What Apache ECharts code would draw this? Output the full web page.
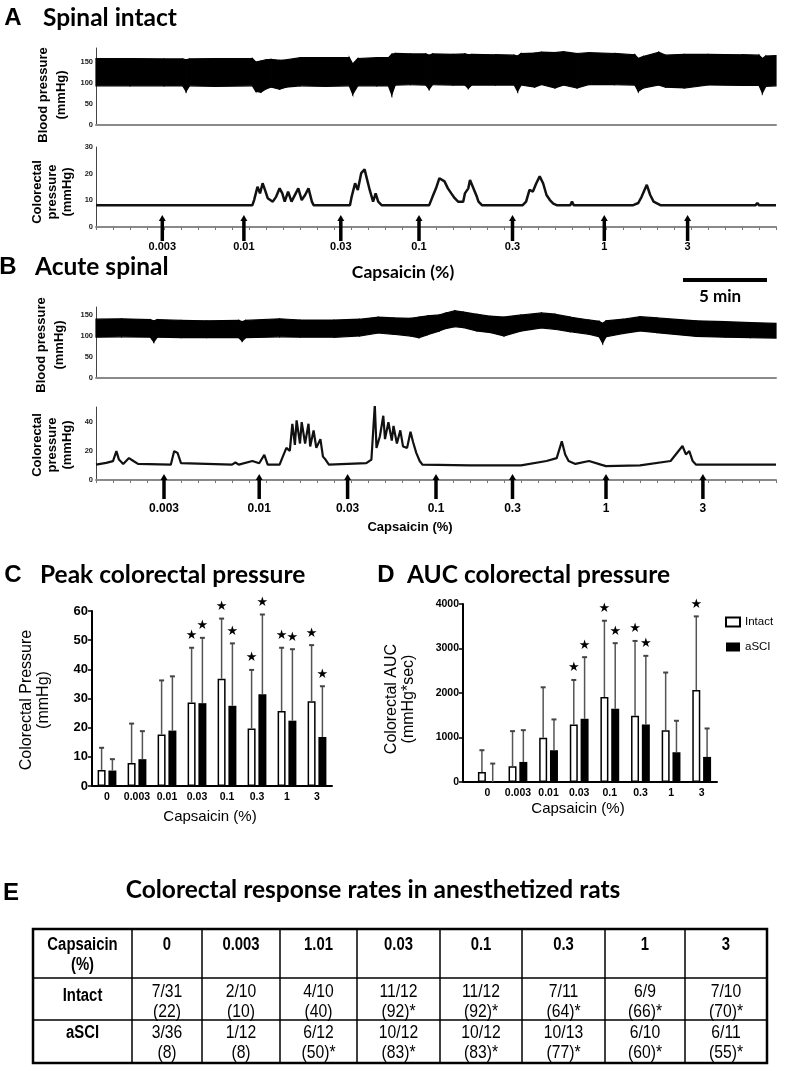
<!DOCTYPE html>
<html><head><meta charset="utf-8">
<script src="https://cdn.jsdelivr.net/npm/echarts/dist/echarts.min.js"></script>
<style>html,body{margin:0;padding:0;background:#fff}#c{width:785px;height:1071px}</style>
</head><body><div id="c"></div>
<script>
// ---------- DATA ----------
// Panel A: spinal intact, time in minutes
var bpA_t  = [0,2,4,5.1,5.3,5.5,7,9.2,9.4,9.7,10.0,10.3,10.8,11.2,12.0,13.5,14.9,15.1,15.4,16.5,17.2,17.4,17.6,18.5,19.4,19.6,19.8,21.0,21.7,21.9,22.1,23.5,24.6,24.8,25.0,25.8,26.2,27.0,27.5,28.3,29.0,30.5,31.7,31.9,32.2,33.1,33.5,34.6,36.0,38.0,39.0,39.2,39.4,40];
var bpA_hi = [158,158,157,157,155,157,158,158,150,152,155,156,154,155,160,160,160,145,158,160,160,168,170,169,169,166,169,168,169,167,168,167,166,164,170,171,173,172,174,170,172,170,167,158,163,173,166,168,168,167,166,158,164,165];
var bpA_lo = [93,93,93,93,80,93,92,93,80,78,86,90,85,90,93,92,93,73,93,93,93,72,95,96,95,85,96,95,95,87,95,95,95,80,95,90,96,88,95,88,96,96,95,80,88,95,90,88,95,94,94,76,92,93];
var crpA_t = [0,9.2,9.3,9.5,9.65,9.8,9.94,10.1,10.4,10.6,10.8,10.96,11.1,11.3,11.5,11.9,12.1,12.3,12.5,12.7,12.8,14.94,15.04,15.24,15.4,15.6,15.8,15.9,16.1,16.3,16.45,16.6,16.8,19.6,19.8,20.0,20.2,20.3,20.5,20.7,20.9,21.1,21.3,21.6,21.7,21.9,22.0,22.2,22.4,22.5,22.7,25.1,25.3,25.5,25.7,25.9,26.1,26.3,26.5,26.7,26.9,27.1,27.9,28.0,28.1,31.6,31.9,32.1,32.4,32.6,32.8,33.2,38.8,38.9,39.0,40];
var crpA_v = [8.2,8.2,10.1,15.1,12.6,16.4,13.9,10.8,9.5,11.4,14.5,12.6,9.5,13.3,9.5,14.5,10.1,12.0,14.5,9.5,8.2,8.2,11.4,16.4,13.9,20.2,21.6,19.0,13.9,9.5,12.6,9.5,8.2,8.2,11.4,14.5,18.3,19.0,17.1,14.5,12.6,10.8,9.5,9.5,12.6,14.5,17.6,14.5,11.4,9.5,8.2,8.2,9.5,13.9,13.3,16.4,19.0,16.4,12.0,10.1,8.8,8.2,8.2,9.5,8.2,8.2,9.0,11.4,15.8,12.0,9.5,8.2,8.2,9.0,8.2,8.2];
var arrowA_t = [3.9,8.7,14.4,19.0,24.5,29.9,34.8];
// Panel B: acute spinal
var bpB_t  = [0,1.5,3.2,3.4,3.6,5,6.5,8.4,8.6,8.8,10.8,12,14,15.5,16.6,17.5,18.5,19.0,19.5,20.2,20.6,21.1,21.6,22.4,23.2,24.0,25.0,26.2,27.0,27.9,29.0,29.6,29.8,30.0,31.0,32.0,33.0,35.3,37.0,38.5,40];
var bpB_hi = [140,141,139,136,139,137,136,137,134,137,141,138,138,140,145,143,142,145,148,150,155,160,157,152,147,145,150,155,152,145,138,135,130,136,140,146,143,136,134,132,130];
var bpB_lo = [97,98,97,86,97,96,96,96,88,96,98,97,97,100,107,104,100,96,103,112,118,122,120,112,108,100,112,119,116,110,104,98,83,98,106,112,108,99,97,96,95];
var crpB_t = [0,0.6,1.0,1.2,1.35,1.6,1.94,2.2,2.47,4.4,4.6,4.8,5.0,8.0,8.2,8.4,9.2,9.6,9.9,10.1,10.8,11.0,11.2,11.4,11.55,11.7,11.8,12.0,12.1,12.3,12.5,12.6,12.8,12.96,13.2,13.35,13.5,13.7,15.9,16.2,16.4,16.5,16.7,16.9,17.0,17.2,17.4,17.5,17.7,17.9,18.06,18.3,18.5,18.65,18.84,19.04,19.2,22,25,26.5,27.1,27.4,27.6,27.8,28.2,29.0,29.7,30.0,32,33.8,34.5,34.7,34.9,35.1,35.3,37,40];
var crpB_v = [10.5,11.7,12.9,19.8,14,11,15,13,11,10.5,19.8,18.5,11.5,10.5,12,10.5,13,11.5,17.2,10.5,10.5,16.3,22,20,38.5,24,40.8,25,39.6,25,38.5,23,33.9,22,28,16,14,10.5,11.5,14,51.3,22,30,44,28,39.6,27,37,25,34,23,22,33,26,18.6,13,10.5,10,10,13,15,26.5,17.5,13,11,13,10.5,9.5,10,13,23.3,17.5,19.8,13,10.5,10.5,10.5];
var arrowB_t = [4.0,9.6,14.8,20.0,24.5,30.0,35.7];
var arrowLabels = ['0.003','0.01','0.03','0.1','0.3','1','3'];
// Panels C and D
var categories = ['0','0.003','0.01','0.03','0.1','0.3','1','3'];
var intactC    = [5.5,7.9,17.7,28.6,36.8,19.7,25.7,29.1];
var intactCErr = [13.1,21.4,36.2,47.4,57.4,39.8,47.4,48.3];
var asciC      = [5.3,9.2,19.0,28.4,27.5,31.5,22.4,16.8];
var asciCErr   = [9.2,18.8,37.6,50.8,48.9,58.8,46.9,34.2];
var sigIntactC = [0,0,0,1,1,1,1,1];
var sigAsciC   = [0,0,0,1,1,1,1,1];
var intactD    = [226,353,992,1293,1910,1489,1165,2068];
var intactDErr = [714,1143,2128,2293,3624,3170,2460,3722];
var asciD      = [0,451,714,1421,1647,1293,669,564];
var asciDErr   = [414,1165,1406,2805,3120,2835,1376,1203];
var sigIntactD = [0,0,0,1,1,1,0,1];
var sigAsciD   = [0,0,0,1,1,1,0,0];
// Panel E table
var tableHead   = ['0','0.003','1.01','0.03','0.1','0.3','1','3'];
var intactRatio = ['7/31','2/10','4/10','11/12','11/12','7/11','6/9','7/10'];
var intactPct   = ['(22)','(10)','(40)','(92)*','(92)*','(64)*','(66)*','(70)*'];
var asciRatio   = ['3/36','1/12','6/12','10/12','10/12','10/13','6/10','6/11'];
var asciPct     = ['(8)','(8)','(50)*','(83)*','(83)*','(77)*','(60)*','(55)*'];

// ---------- STYLE ----------
var TF = 'Lato, "Open Sans", sans-serif';
var AR = '"Liberation Sans", Arial, sans-serif';

function pairs(t, v){ return t.map(function(x,i){ return [x, v[i]]; }); }

function traceX(gi, ticks){
  return {type:'value', gridIndex:gi, min:0, max:40, interval:1,
    axisLine:{lineStyle:{color:'#8a8a8a', width:2}},
    axisTick:{show:ticks, length:3, lineStyle:{color:'#777', width:1}},
    axisLabel:{show:false}, splitLine:{show:false}};
}
function traceY(gi, max, interval){
  return {type:'value', gridIndex:gi, min:0, max:max, interval:interval,
    axisLine:{show:true, lineStyle:{color:'#444', width:1}},
    axisTick:{show:false}, splitLine:{show:false},
    axisLabel:{margin:3, color:'#222', fontSize:7.5, fontWeight:'bold', fontFamily:AR,
      formatter:function(v){ return (v % interval === 0) ? String(v) : ''; }}};
}
function barX(gi){
  return {type:'category', gridIndex:gi, data:categories,
    axisLine:{lineStyle:{color:'#000', width:2}},
    axisTick:{alignWithLabel:true, length:4, lineStyle:{color:'#000', width:1.5}},
    axisLabel:{interval:0, margin:6, color:'#000', fontSize:10.5, fontWeight:'bold', fontFamily:AR}};
}
function barY(gi, max, interval, offset, fs){
  return {type:'value', gridIndex:gi, min:0, max:max, interval:interval, offset:offset,
    axisLine:{show:true, lineStyle:{color:'#000', width:2}},
    axisTick:{show:true, length:4, lineStyle:{color:'#000', width:1.5}},
    splitLine:{show:false},
    axisLabel:{margin:4, color:'#000', fontSize:fs, fontWeight:'bold', fontFamily:AR,
      formatter:function(v){ return String(v); }}};
}
// blood-pressure envelope: one quadrilateral per interval between readings
function band(xi, t, hi, lo){
  var d = [];
  for (var i = 0; i < t.length-1; i++) d.push([t[i], lo[i], hi[i], t[i+1], lo[i+1], hi[i+1]]);
  return {type:'custom', xAxisIndex:xi, yAxisIndex:xi, silent:true, z:2, data:d,
    encode:{x:[0,3], y:[1,2,4,5]},
    renderItem:function(params, api){
      var a = api.coord([api.value(0), api.value(1)]), b = api.coord([api.value(0), api.value(2)]);
      var c = api.coord([api.value(3), api.value(5)]), e = api.coord([api.value(3), api.value(4)]);
      return {type:'polygon', shape:{points:[a,b,c,e]}, style:{fill:'#000', stroke:'#000', lineWidth:1.2}};
    }};
}
function arrows(xi, times, up, down, labelDy, fs){
  return {type:'custom', xAxisIndex:xi, yAxisIndex:xi, clip:false, silent:true, z:10,
    data: times.map(function(t,i){ return [t, i]; }),
    renderItem:function(params, api){
      var p = api.coord([api.value(0), 0]); var i = api.value(1);
      return {type:'group', children:[
        {type:'line', shape:{x1:p[0], y1:p[1]+down, x2:p[0], y2:p[1]-up+5}, style:{stroke:'#000', lineWidth:3.5}},
        {type:'polygon', shape:{points:[[p[0]-3.5,p[1]-up+6],[p[0]+3.5,p[1]-up+6],[p[0],p[1]-up]]}, style:{fill:'#000'}},
        {type:'text', style:{text:arrowLabels[i], x:p[0], y:p[1]+labelDy, align:'center', verticalAlign:'middle',
          fontSize:fs, fontWeight:'bold', fontFamily:AR, fill:'#000'}}
      ]};
    }};
}
function errs(xi, vals, err, sig, offset){
  return {type:'custom', xAxisIndex:xi, yAxisIndex:xi, clip:false, silent:true, z:6,
    data: vals.map(function(v,i){ return [i, v, err[i], sig[i]]; }),
    renderItem:function(params, api){
      var i = api.value(0);
      var a = api.coord([i, api.value(1)]); var b = api.coord([i, api.value(2)]);
      var x = a[0] + offset;
      var ch = [
        {type:'line', shape:{x1:x, y1:a[1], x2:x, y2:b[1]}, style:{stroke:'#555', lineWidth:1.5}},
        {type:'line', shape:{x1:x-2.5, y1:b[1], x2:x+2.5, y2:b[1]}, style:{stroke:'#444', lineWidth:2}}
      ];
      if (api.value(3)) ch.push({type:'text', style:{text:'\u2605', x:x, y:b[1]-12, align:'center', verticalAlign:'middle',
        fontSize:13, fontFamily:'"DejaVu Sans"', fill:'#000'}});
      return {type:'group', children:ch};
    }};
}
function bars(xi, intact, asci){
  return [
    {type:'bar', name:'Intact', xAxisIndex:xi, yAxisIndex:xi, data:intact, barWidth:8, barGap:'35%',
     itemStyle:{color:'#fff', borderColor:'#000', borderWidth:1.5}, silent:true, z:3},
    {type:'bar', name:'aSCI', xAxisIndex:xi, yAxisIndex:xi, data:asci, barWidth:8, barGap:'35%',
     itemStyle:{color:'#000'}, silent:true, z:3}
  ];
}

// ---------- GRAPHICS (text, table) ----------
var G = [];
function txt(s, x, y, size, weight, fam, align, rot, lh, sx){
  var e = {type:'text', x:x, y:y, silent:true,
    style:{text:s, x:0, y:0, fontSize:size, fontWeight:weight, fontFamily:fam, fill:'#000', align:align||'left', verticalAlign:'middle'}};
  if (rot) e.rotation = rot;
  if (lh) e.style.lineHeight = lh;
  if (sx) e.scaleX = sx;
  G.push(e);
}
txt('A', 13, 18, 24, 'bold', AR, 'center');
txt('Spinal intact', 43, 18, 24.5, 'bold', TF);
txt('Blood pressure\n(mmHg)', 52, 95, 13, 'bold', AR, 'center', Math.PI/2, 18);
txt('Colorectal\npressure\n(mmHg)', 52, 192, 13, 'bold', AR, 'center', Math.PI/2, 15);
txt('Capsaicin (%)', 403, 272, 17.5, 'bold', TF, 'center');
txt('B', 8, 267, 24, 'bold', AR, 'center');
txt('Acute spinal', 35, 267, 24.5, 'bold', TF);
G.push({type:'rect', silent:true, shape:{x:683, y:278, width:84, height:4}, style:{fill:'#000'}});
txt('5 min', 720, 297, 17, 'bold', TF, 'center');
txt('Blood pressure\n(mmHg)', 50, 345, 13, 'bold', AR, 'center', Math.PI/2, 18);
txt('Colorectal\npressure\n(mmHg)', 52, 445, 13, 'bold', AR, 'center', Math.PI/2, 15);
txt('Capsaicin (%)', 410, 527, 13, 'bold', AR, 'center');
txt('C', 13, 575, 24, 'bold', AR, 'center');
txt('Peak colorectal pressure', 40, 575, 24.5, 'bold', TF);
txt('D', 386, 575, 24, 'bold', AR, 'center');
txt('AUC colorectal pressure', 407, 575, 24.5, 'bold', TF);
txt('Colorectal Pressure\n(mmHg)', 35, 700, 16, 'normal', AR, 'center', Math.PI/2, 17);
txt('Colorectal AUC\n(mmHg*sec)', 400, 699, 16, 'normal', AR, 'center', Math.PI/2, 17);
txt('Capsaicin (%)', 210, 817, 15, 'normal', AR, 'center');
txt('Capsaicin (%)', 578, 809, 15, 'normal', AR, 'center');
txt('E', 11, 893, 24, 'bold', AR, 'center');
txt('Colorectal response rates in anesthetized rats', 373, 890, 24.5, 'bold', TF, 'center');

// table
var colX = [33,132,202,280,357,440,522,605,685,767];
var rowY = [929,978,1020,1063];
G.push({type:'rect', silent:true, shape:{x:colX[0], y:rowY[0], width:colX[9]-colX[0], height:rowY[3]-rowY[0]}, style:{fill:'none', stroke:'#000', lineWidth:2.5}});
for (var c = 1; c < colX.length-1; c++) G.push({type:'line', silent:true, shape:{x1:colX[c], y1:rowY[0], x2:colX[c], y2:rowY[3]}, style:{stroke:'#000', lineWidth:1.5}});
for (var r = 1; r < rowY.length-1; r++) G.push({type:'line', silent:true, shape:{x1:colX[0], y1:rowY[r], x2:colX[9], y2:rowY[r]}, style:{stroke:'#000', lineWidth:1.5}});
function cx(i){ return (colX[i]+colX[i+1])/2; }
var SX = 0.85;
txt('Capsaicin\n(%)', cx(0), 955, 17.5, 'bold', AR, 'center', 0, 20, SX);
txt('Intact', cx(0), 996, 17.5, 'bold', AR, 'center', 0, 0, SX);
txt('aSCI', cx(0), 1033, 17.5, 'bold', AR, 'center', 0, 0, SX);
for (var k = 0; k < tableHead.length; k++) {
  txt(tableHead[k], cx(k+1), 945, 17.5, 'bold', AR, 'center', 0, 0, SX);
  txt(intactRatio[k] + '\n' + intactPct[k], cx(k+1), 1002, 18.5, 'normal', AR, 'center', 0, 20, SX);
  txt(asciRatio[k] + '\n' + asciPct[k], cx(k+1), 1043, 18.5, 'normal', AR, 'center', 0, 20, SX);
}

// ---------- OPTION ----------
function grid(l, t, w, h){ return {left:l, top:t, width:w, height:h, containLabel:false, outerBoundsMode:'none'}; }

var series = [].concat(
  [band(0, bpA_t, bpA_hi, bpA_lo)],
  [{type:'line', xAxisIndex:1, yAxisIndex:1, data:pairs(crpA_t, crpA_v), symbol:'none', lineStyle:{color:'#111', width:2.5}, silent:true}],
  [arrows(1, arrowA_t, 12, 14, 20, 11)],
  [band(2, bpB_t, bpB_hi, bpB_lo)],
  [{type:'line', xAxisIndex:3, yAxisIndex:3, data:pairs(crpB_t, crpB_v), symbol:'none', lineStyle:{color:'#111', width:2.2}, silent:true}],
  [arrows(3, arrowB_t, 6, 19, 29, 12)],
  bars(4, intactC, asciC),
  [errs(4, intactC, intactCErr, sigIntactC, -5.4), errs(4, asciC, asciCErr, sigAsciC, 5.4)],
  bars(5, intactD, asciD),
  [errs(5, intactD, intactDErr, sigIntactD, -5.4), errs(5, asciD, asciDErr, sigAsciD, 5.4)]
);

var option = {
  animation:false,
  backgroundColor:'#fff',
  grid:[grid(96,48,680,77), grid(96,147,680,80), grid(96,307,680,71), grid(96,407,680,73),
        grid(92,611,240,175), grid(472,604,245,178)],
  xAxis:[traceX(0,false), traceX(1,true), traceX(2,false), traceX(3,true), barX(4), barX(5)],
  yAxis:[traceY(0,183,50), traceY(1,30,10), traceY(2,169,50), traceY(3,50,20), barY(4,60,10,0,13), barY(5,4000,1000,9,10.5)],
  legend:{data:['Intact','aSCI'], left:720, top:611, orient:'vertical', icon:'rect', itemWidth:14, itemHeight:9, itemGap:13,
          selectedMode:false, textStyle:{color:'#000', fontSize:11.5, fontFamily:AR}},
  series:series,
  graphic:{elements:G.concat([{type:'line', silent:true, shape:{x1:463, y1:782, x2:473, y2:782}, style:{stroke:'#000', lineWidth:2}}])}
};
var chart = echarts.init(document.getElementById('c'), null, {renderer:'canvas'});
chart.setOption(option);
</script></body></html>
